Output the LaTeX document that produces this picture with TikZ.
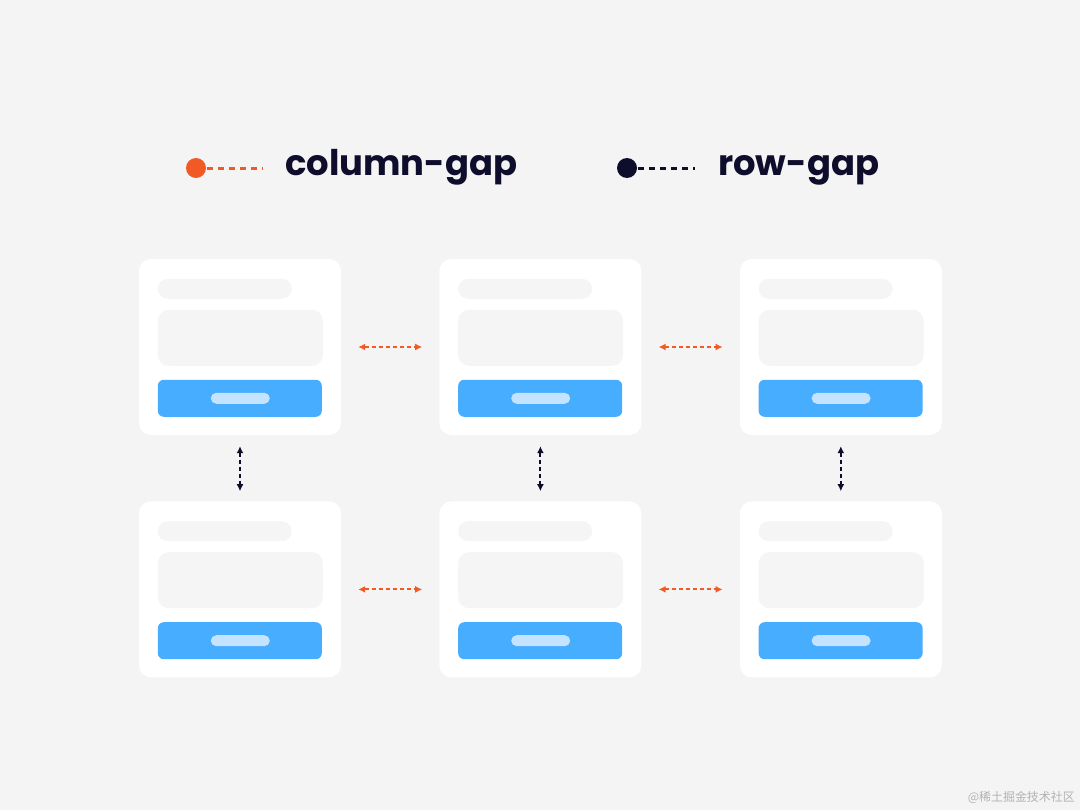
\documentclass[tikz,border=0pt]{standalone}
\usepackage{fontspec}
\setmainfont{Poppins}
\newfontfamily\cjk{Noto Sans CJK SC}
\definecolor{bggray}{HTML}{F4F4F4}
\definecolor{pillgray}{HTML}{F5F5F5}
\definecolor{btnblue}{HTML}{47ADFF}
\definecolor{btnlight}{HTML}{C4E3FF}
\definecolor{gaporange}{HTML}{F15A24}
\definecolor{gapnavy}{HTML}{0E0E2C}
\usetikzlibrary{positioning,calc,arrows.meta,backgrounds}

\begin{document}
\begin{tikzpicture}[x=1bp, y=-1bp,
    card/.style={rectangle, fill=white, rounded corners=12bp,
                 minimum width=202bp, minimum height=176bp, inner sep=0pt},
    colgap/.style={{Latex[length=7bp,width=7bp]}-{Latex[length=7bp,width=7bp]},
                   gaporange, line width=2bp, dash pattern=on 4bp off 3bp,
                   shorten <=17bp, shorten >=17bp},
    rowgap/.style={{Latex[length=7bp,width=7bp]}-{Latex[length=7bp,width=7bp]},
                   gapnavy, line width=2bp, dash pattern=on 4bp off 3bp,
                   shorten <=11bp, shorten >=10bp},
    legend/.style={font=\fontsize{35.5}{40}\selectfont\bfseries, text=gapnavy, anchor=base west, inner sep=0pt}]

    % background and page size
    \fill[bggray] (0,0) rectangle (1080,810);

    % legend
    \node[circle, fill=gaporange, minimum size=20bp, inner sep=0pt] (dotcol) at (196,168) {};
    \coordinate (endcol) at (263,168);
    \draw[gaporange, line width=3bp, dash pattern=on 6bp off 5bp] (dotcol.center) -- (endcol);
    \node[legend] (labcol) at (285,175) {column-gap};

    \node[circle, fill=gapnavy, minimum size=20bp, inner sep=0pt] (dotrow) at (627,168) {};
    \coordinate (endrow) at (695,168);
    \draw[gapnavy, line width=3bp, dash pattern=on 6bp off 5bp] (dotrow.center) -- (endrow);
    \node[legend] (labrow) at (718,175) {row-gap};

    % cards
    \node[card] (c11) at (240,347) {};
    \node[card, right=98bp of c11] (c12) {};
    \node[card, right=98bp of c12] (c13) {};
    \node[card, below=66bp of c11] (c21) {};
    \node[card, below=66bp of c12] (c22) {};
    \node[card, below=66bp of c13] (c23) {};

    \foreach \c in {c11,c12,c13,c21,c22,c23} {
        % soft shadow
        \begin{scope}[on background layer]
            \foreach \s in {1,...,8}
                \fill[black, opacity=0.012, rounded corners=12bp+\s bp]
                    ($(\c.north west)+(-\s,-\s+2)$) rectangle ($(\c.south east)+(\s,\s+2)$);
        \end{scope}
        \fill[pillgray, rounded corners=10bp] ($(\c.north west)+(19,20)$) rectangle ($(\c.north west)+(153,40)$);
        \fill[pillgray, rounded corners=11bp] ($(\c.north west)+(19,51)$) rectangle ($(\c.north west)+(184,107)$);
        \fill[btnblue, rounded corners=6bp] ($(\c.north west)+(19,121)$) rectangle ($(\c.north west)+(183,158)$);
        \fill[btnlight, rounded corners=5.5bp] ($(\c.north west)+(72,134)$) rectangle ($(\c.north west)+(131,145)$);
    }

    % gaps
    \draw[colgap] (c11) -- (c12);
    \draw[colgap] (c12) -- (c13);
    \draw[colgap] (c21) -- (c22);
    \draw[colgap] (c22) -- (c23);
    \draw[rowgap] (c11) -- (c21);
    \draw[rowgap] (c12) -- (c22);
    \draw[rowgap] (c13) -- (c23);

    % watermark
    \node[anchor=east, text=black!30, font=\cjk\fontsize{12}{14}\selectfont, inner sep=0pt] (mark) at (1075,797) {@稀土掘金技术社区};
\end{tikzpicture}
\end{document}
